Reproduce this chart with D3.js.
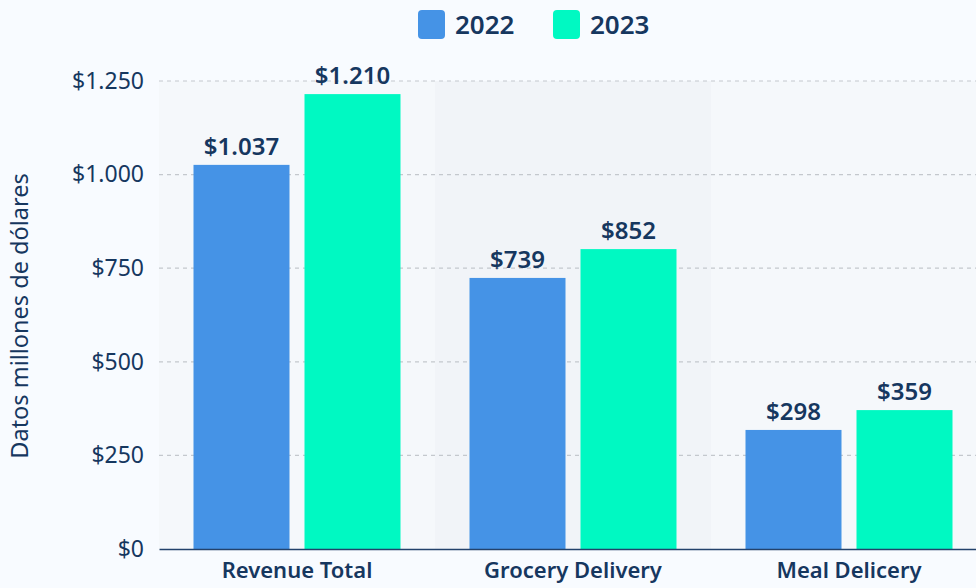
<!DOCTYPE html>
<html>
<head>
<meta charset="utf-8">
<script src="https://cdn.jsdelivr.net/npm/d3@7"></script>
<style>
  body { margin: 0; background: #f8fbff; }
  svg { display: block; }
  svg text { font-family: "Noto Sans", "Open Sans", sans-serif; }
</style>
</head>
<body>
<svg id="chart" width="976" height="588"></svg>
<script>
  // data
  var categories = ["Revenue Total", "Grocery Delivery", "Meal Delicery"];
  var years = ["2022", "2023"];
  var values2022 = [1026, 724, 318];
  var values2023 = [1215, 801, 371];
  var labels2022 = ["$1.037", "$739", "$298"];
  var labels2023 = ["$1.210", "$852", "$359"];
  var yTicks = [0, 250, 500, 750, 1000, 1250];
  var yTickLabels = ["$0", "$250", "$500", "$750", "$1.000", "$1.250"];

  var colors = {"2022": "#4593e6", "2023": "#00f9c2"};
  var navy = "#16375f";

  var svg = d3.select("#chart");
  var margin = {left: 159, top: 81, bottom: 39};
  var bandW = 276;
  var width = bandW * categories.length;   // runs a bit past the right edge, like the reference
  var height = 588 - margin.top - margin.bottom;

  var g = svg.append("g")
    .attr("transform", "translate(" + margin.left + "," + margin.top + ")");

  var x = d3.scaleBand().domain(categories).range([0, width]).padding(0);
  var y = d3.scaleLinear().domain([0, 1250]).range([height, 0]);

  // alternating band backgrounds
  var bandFills = ["#f5f8fb", "#f1f4f8", "#f5f8fb"];
  g.selectAll(".band").data(categories).enter().append("rect")
    .attr("class", "band")
    .attr("x", function(d) { return x(d); })
    .attr("y", 0)
    .attr("width", x.bandwidth())
    .attr("height", height)
    .attr("fill", function(d, i) { return bandFills[i]; });

  // dashed grid lines
  g.selectAll(".grid").data(yTicks.filter(function(t) { return t > 0; })).enter().append("line")
    .attr("class", "grid")
    .attr("x1", 0).attr("x2", width)
    .attr("y1", function(d) { return y(d); })
    .attr("y2", function(d) { return y(d); })
    .attr("stroke", "#c4c8cd")
    .attr("stroke-width", 1.2)
    .attr("stroke-dasharray", "4,4");

  // y axis labels
  var yAxis = d3.axisLeft(y).tickValues(yTicks)
    .tickFormat(function(d, i) { return yTickLabels[i]; })
    .tickSize(0).tickPadding(15);
  var yG = g.append("g").call(yAxis);
  yG.select(".domain").remove();
  yG.selectAll("text")
    .attr("fill", navy)
    .style("font-size", "23px");

  // grouped bars
  var barW = 96, gap = 15;
  var series = [
    {year: "2022", values: values2022, labels: labels2022, off: -(gap / 2 + barW)},
    {year: "2023", values: values2023, labels: labels2023, off: gap / 2}
  ];

  series.forEach(function(s) {
    g.selectAll(".bar" + s.year).data(categories).enter().append("rect")
      .attr("x", function(d) { return x(d) + x.bandwidth() / 2 + s.off; })
      .attr("y", function(d, i) { return y(s.values[i]); })
      .attr("width", barW)
      .attr("height", function(d, i) { return height - y(s.values[i]); })
      .attr("fill", colors[s.year]);

    g.selectAll(".lab" + s.year).data(categories).enter().append("text")
      .attr("x", function(d) { return x(d) + x.bandwidth() / 2 + s.off + barW / 2; })
      .attr("y", function(d, i) { return y(s.values[i]) - 10; })
      .attr("text-anchor", "middle")
      .attr("fill", navy)
      .style("font-size", "24px")
      .style("font-weight", 600)
      .text(function(d, i) { return s.labels[i]; });
  });

  // x axis
  var xAxis = d3.axisBottom(x).tickSize(0).tickPadding(13);
  var xG = g.append("g").attr("transform", "translate(0," + height + ")").call(xAxis);
  xG.select(".domain").attr("stroke", "#23426b").attr("stroke-width", 1.5);
  xG.selectAll("text")
    .attr("fill", navy)
    .style("font-size", "22px")
    .style("font-weight", 600);

  // y axis title
  svg.append("text")
    .attr("transform", "translate(28," + (margin.top + height / 2 + 1) + ") rotate(-90)")
    .attr("text-anchor", "middle")
    .attr("fill", navy)
    .style("font-size", "23.5px")
    .text("Datos millones de dólares");

  // legend
  var legendX = [418, 553];
  var leg = svg.selectAll(".legend").data(years).enter().append("g")
    .attr("transform", function(d, i) { return "translate(" + legendX[i] + ",10)"; });
  leg.append("rect")
    .attr("width", 27).attr("height", 29).attr("rx", 4)
    .attr("fill", function(d) { return colors[d]; });
  leg.append("text")
    .attr("x", 37).attr("y", 24)
    .attr("fill", navy)
    .style("font-size", "26px")
    .style("font-weight", 600)
    .text(function(d) { return d; });
</script>
</body>
</html>
